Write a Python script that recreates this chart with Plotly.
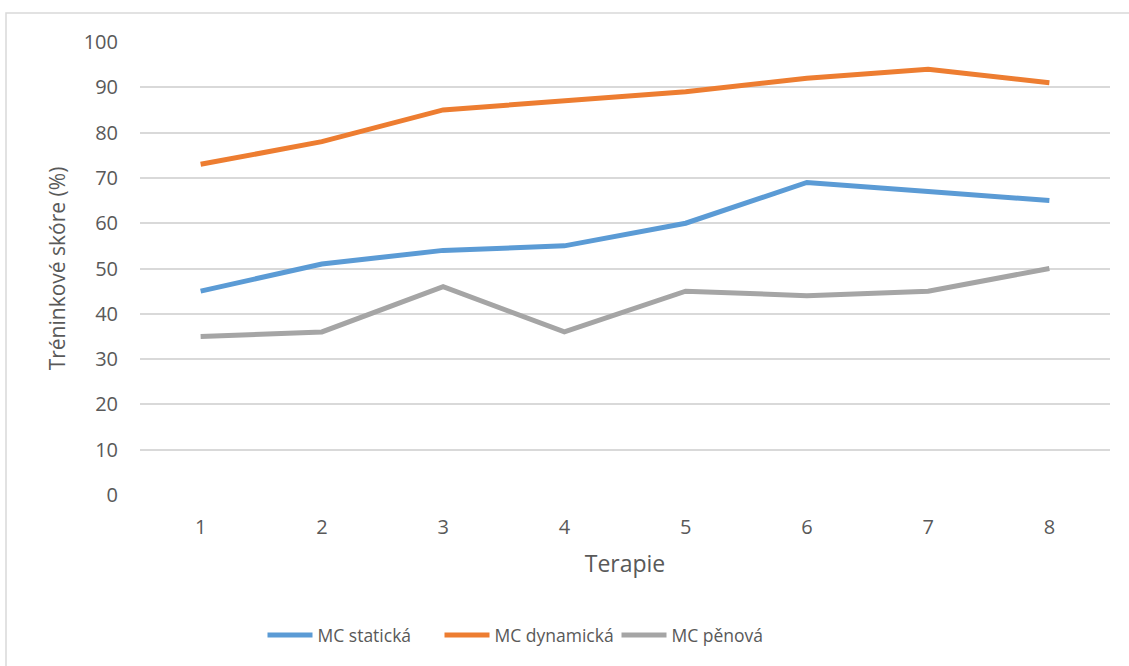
import plotly.graph_objects as go

# Therapy sessions and training scores (%)
terapie = ["1", "2", "3", "4", "5", "6", "7", "8"]
mc_staticka = [45, 51, 54, 55, 60, 69, 67, 65]
mc_dynamicka = [73, 78, 85, 87, 89, 92, 94, 91]
mc_penova = [35, 36, 46, 36, 45, 44, 45, 50]

series = [
    ("MC statická", mc_staticka, "#5B9BD5"),
    ("MC dynamická", mc_dynamicka, "#ED7D31"),
    ("MC pěnová", mc_penova, "#A5A5A5"),
]

W, H = 1129, 666
L, R, T, B = 140, 19, 42, 171
pw, ph = W - L - R, H - T - B

fig = go.Figure()
for name, vals, color in series:
    fig.add_trace(go.Scatter(
        x=terapie, y=vals, name=name, mode="lines",
        line=dict(color=color, width=5),
    ))

font_color = "#595959"
fam = "Open Sans, sans-serif"

def px_x(px):
    return (px - L) / pw

def px_y(py):
    return (H - B - py) / ph

fig.update_layout(
    width=W, height=H,
    margin=dict(l=L, r=R, t=T, b=B),
    paper_bgcolor="white", plot_bgcolor="white",
    font=dict(family=fam, color=font_color, size=20),
    xaxis=dict(
        type="category", range=[-0.5, 7.5],
        showgrid=False, showline=False, zeroline=False,
        ticks="outside", ticklen=14, tickcolor="rgba(0,0,0,0)",
        tickfont=dict(size=20, color=font_color),
        title=dict(text="Terapie", font=dict(size=23, color=font_color), standoff=16),
    ),
    yaxis=dict(
        range=[0, 100], dtick=10, tick0=0,
        showgrid=True, gridcolor="#d9d9d9", gridwidth=1.5,
        zeroline=False, showline=False,
        ticks="outside", ticklen=17, tickcolor="rgba(0,0,0,0)",
        tickfont=dict(size=20, color=font_color),
        title=dict(text="Tréninkové skóre (%)", font=dict(size=21, color=font_color), standoff=12),
    ),
    legend=dict(
        orientation="h", x=px_x(528), xanchor="center",
        y=px_y(635), yanchor="middle",
        font=dict(size=17.5, color=font_color),
        itemwidth=45, tracegroupgap=0,
        entrywidth=117, entrywidthmode="pixels",
        bgcolor="rgba(0,0,0,0)",
    ),
    shapes=[dict(
        type="rect", xref="paper", yref="paper",
        x0=px_x(6), x1=px_x(W + 10), y0=px_y(H + 10), y1=px_y(13),
        line=dict(color="#d9d9d9", width=1.5), layer="below",
    )],
)

fig.write_html("out.html")
